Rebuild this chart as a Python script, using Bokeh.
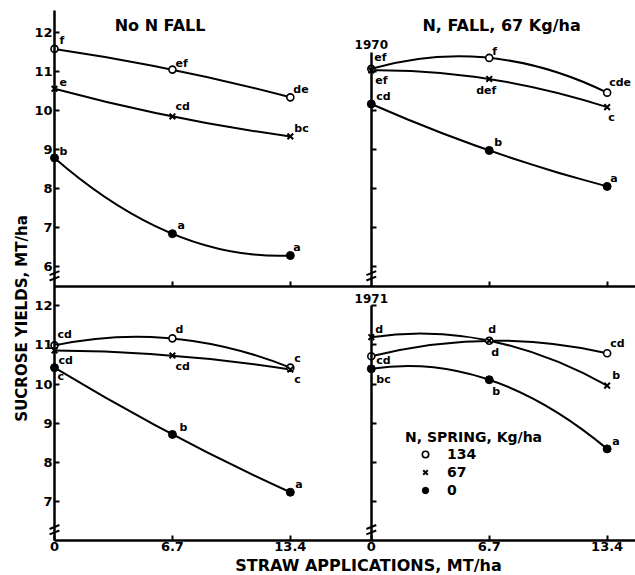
import math
from bokeh.plotting import figure
from bokeh.models import (ColumnDataSource, LinearAxis, FixedTicker, Label,
                          Legend, LegendItem, Range1d)
from bokeh.core.properties import value
from bokeh.embed import file_html
from bokeh.resources import INLINE

# ---------------- data ----------------
straw = [0, 6.7, 13.4]                      # straw applications, MT/ha
straw_tick_labels = ["0", "6.7", "13.4"]
spring_rates = ["134", "67", "0"]           # N, spring, kg/ha
ytick_1970 = [6, 7, 8, 9, 10, 11, 12]
ytick_1971 = [7, 8, 9, 10, 11, 12]

# sucrose yields, MT/ha
y70_nofall_134 = [11.58, 11.05, 10.34]
y70_nofall_67 = [10.56, 9.85, 9.34]
y70_nofall_0 = [8.79, 6.85, 6.29]
y70_fall_134 = [11.07, 11.35, 10.46]
y70_fall_67 = [11.03, 10.81, 10.09]
y70_fall_0 = [10.17, 8.98, 8.06]
y71_nofall_134 = [10.99, 11.17, 10.42]
y71_nofall_67 = [10.86, 10.73, 10.37]
y71_nofall_0 = [10.42, 8.71, 7.23]
y71_fall_134 = [10.71, 11.11, 10.79]
y71_fall_67 = [11.20, 11.11, 9.96]
y71_fall_0 = [10.39, 10.11, 8.34]

# significance letters
l70_nofall_134 = ["f", "ef", "de"]
l70_nofall_67 = ["e", "cd", "bc"]
l70_nofall_0 = ["b", "a", "a"]
l70_fall_134 = ["ef", "f", "cde"]
l70_fall_67 = ["ef", "def", "c"]
l70_fall_0 = ["cd", "b", "a"]
l71_nofall_134 = ["cd", "d", "c"]
l71_nofall_67 = ["cd", "cd", "c"]
l71_nofall_0 = ["c", "b", "a"]
l71_fall_134 = ["cd", "d", "cd"]
l71_fall_67 = ["d", "d", "b"]
l71_fall_0 = ["bc", "b", "a"]

# ---------------- layout / style ----------------
FONT = "DejaVu Sans"
PX_X = 17.6          # pixels per MT/ha of straw
PX_Y = 39.06         # pixels per MT/ha of sucrose
COL_OFFSET = {"nofall": 0.0, "fall": 18.0}
ROW_OFFSET = {"1970": 7.0, "1971": 0.0}
ROW_FLOOR = {"1970": 5.5, "1971": 6.0}
RIGHT_AXIS_TOP = {"1970": 11.5, "1971": 12.0}
LEFT_AXIS_TOP = 12.56 + ROW_OFFSET["1970"]

series = {
    ("1970", "nofall", "134"): (y70_nofall_134, l70_nofall_134),
    ("1970", "nofall", "67"): (y70_nofall_67, l70_nofall_67),
    ("1970", "nofall", "0"): (y70_nofall_0, l70_nofall_0),
    ("1970", "fall", "134"): (y70_fall_134, l70_fall_134),
    ("1970", "fall", "67"): (y70_fall_67, l70_fall_67),
    ("1970", "fall", "0"): (y70_fall_0, l70_fall_0),
    ("1971", "nofall", "134"): (y71_nofall_134, l71_nofall_134),
    ("1971", "nofall", "67"): (y71_nofall_67, l71_nofall_67),
    ("1971", "nofall", "0"): (y71_nofall_0, l71_nofall_0),
    ("1971", "fall", "134"): (y71_fall_134, l71_fall_134),
    ("1971", "fall", "67"): (y71_fall_67, l71_fall_67),
    ("1971", "fall", "0"): (y71_fall_0, l71_fall_0),
}
# pixel offsets of each letter from its point (left edge, vertical centre)
letter_offsets = {
    ("1970", "nofall", "134"): [(5, -8), (3, -6), (3, -8)],
    ("1970", "nofall", "67"): [(5, -7), (3, -10), (4, -8)],
    ("1970", "nofall", "0"): [(5, -6), (5, -8), (3, -8)],
    ("1970", "fall", "134"): [(3, -11), (3, -6), (2, -10)],
    ("1970", "fall", "67"): [(4, 10), (-13, 12), (1, 10)],
    ("1970", "fall", "0"): [(5, -7), (5, -8), (3, -8)],
    ("1971", "nofall", "134"): [(3, -11), (3, -9), (4, -9)],
    ("1971", "nofall", "67"): [(4, 10), (3, 11), (4, 10)],
    ("1971", "nofall", "0"): [(3, 9), (7, -7), (5, -8)],
    ("1971", "fall", "134"): [(5, 4), (-1, -11), (3, -10)],
    ("1971", "fall", "67"): [(4, -8), (2, 12), (5, -10)],
    ("1971", "fall", "0"): [(5, 11), (3, 12), (5, -7)],
}

W, H = 635, 575
x_start = -54 / PX_X
x_end = x_start + W / PX_X
y_end = 19 + 32 / PX_Y
y_start = y_end - H / PX_Y

p = figure(width=W, height=H, x_range=Range1d(x_start, x_end),
           y_range=Range1d(y_start, y_end), output_backend="svg",
           toolbar_location=None, min_border=0, min_border_left=0,
           min_border_bottom=0, min_border_top=0, min_border_right=0,
           background_fill_color="white")
p.grid.visible = False
p.outline_line_color = None


def style_axis(ax):
    ax.axis_line_width = 2.5
    ax.axis_line_color = "black"
    ax.major_tick_line_width = 2
    ax.major_tick_in = 5
    ax.major_tick_out = 0
    ax.minor_tick_line_color = None
    ax.major_label_text_font = FONT
    ax.major_label_text_font_style = "bold"
    ax.major_label_text_font_size = "13px"
    ax.major_label_text_color = "black"
    ax.major_label_standoff = 2


# main y axis (left, labelled, both years)
left_ticks = [v + ROW_OFFSET["1971"] for v in ytick_1971] + \
             [v + ROW_OFFSET["1970"] for v in ytick_1970]
left_labels = [str(v) for v in ytick_1971] + [str(v) for v in ytick_1970]
yax = p.yaxis[0]
style_axis(yax)
yax.fixed_location = 0
yax.bounds = (ROW_FLOOR["1971"], LEFT_AXIS_TOP)
yax.ticker = FixedTicker(ticks=left_ticks)
yax.major_label_overrides = dict(zip(left_ticks, left_labels))

# right panels' y axes (unlabelled)
for year in ["1970", "1971"]:
    ticks = [v + ROW_OFFSET[year] for v in (ytick_1970 if year == "1970" else ytick_1971)
             if v <= RIGHT_AXIS_TOP[year]]
    ax = LinearAxis(fixed_location=COL_OFFSET["fall"],
                    bounds=(ROW_FLOOR[year] + ROW_OFFSET[year],
                            RIGHT_AXIS_TOP[year] + ROW_OFFSET[year]),
                    ticker=FixedTicker(ticks=ticks),
                    major_label_overrides={t: "" for t in ticks})
    style_axis(ax)
    p.add_layout(ax, "left")

# bottom x axis (labelled)
x_ticks = [v + COL_OFFSET[c] for c in ["nofall", "fall"] for v in straw]
x_labels = straw_tick_labels * 2
xax = p.xaxis[0]
style_axis(xax)
xax.fixed_location = ROW_FLOOR["1971"] + ROW_OFFSET["1971"]
xax.bounds = (0, x_end)
xax.ticker = FixedTicker(ticks=x_ticks)
xax.major_label_overrides = dict(zip(x_ticks, x_labels))

# x axis line of the 1970 row
top_ticks = [t for t in x_ticks if t not in COL_OFFSET.values()]
xax2 = LinearAxis(fixed_location=ROW_FLOOR["1970"] + ROW_OFFSET["1970"],
                  bounds=(0, x_end), ticker=FixedTicker(ticks=top_ticks),
                  major_label_overrides={t: "" for t in top_ticks})
style_axis(xax2)
p.add_layout(xax2, "below")

# axis break marks
bx0, by0, bx1, by1 = [], [], [], []
for year in ["1970", "1971"]:
    for fall in ["nofall", "fall"]:
        xa = COL_OFFSET[fall]
        yb = ROW_FLOOR[year] + ROW_OFFSET[year]
        for k in (0.2, 0.34):
            bx0.append(xa - 0.28); by0.append(yb + k - 0.05)
            bx1.append(xa + 0.28); by1.append(yb + k + 0.05)
p.segment(x0=bx0, y0=by0, x1=bx1, y1=by1, line_color="black", line_width=2)

# curves (quadratic through the three points)
cur = dict(x0=[], y0=[], x1=[], y1=[], cx=[], cy=[])
for (year, fall, rate), (vals, _) in series.items():
    xo, yo = COL_OFFSET[fall], ROW_OFFSET[year]
    cur["x0"].append(straw[0] + xo); cur["y0"].append(vals[0] + yo)
    cur["x1"].append(straw[2] + xo); cur["y1"].append(vals[2] + yo)
    cur["cx"].append(2 * straw[1] - (straw[0] + straw[2]) / 2 + xo)
    cur["cy"].append(2 * vals[1] - (vals[0] + vals[2]) / 2 + yo)
p.quadratic(x0="x0", y0="y0", x1="x1", y1="y1", cx="cx", cy="cy",
            source=ColumnDataSource(cur), line_color="black", line_width=2)

# markers
marker_style = {
    "134": dict(marker="circle", size=7, fill_color="white", line_color="black", line_width=1.6),
    "67": dict(marker="x", size=8, line_color="black", line_width=2),
    "0": dict(marker="circle", size=8, fill_color="black", line_color="black", line_width=1),
}
renderers = {}
for rate in spring_rates:
    xs, ys = [], []
    for (year, fall, r), (vals, _) in series.items():
        if r != rate:
            continue
        xs += [s + COL_OFFSET[fall] for s in straw]
        ys += [v + ROW_OFFSET[year] for v in vals]
    renderers[rate] = p.scatter(x=xs, y=ys, **marker_style[rate])

# letters
lab = dict(x=[], y=[], text=[], dx=[], dy=[])
for key, (vals, letters) in series.items():
    year, fall, _ = key
    for s, v, t, (dx, dy) in zip(straw, vals, letters, letter_offsets[key]):
        lab["x"].append(s + COL_OFFSET[fall]); lab["y"].append(v + ROW_OFFSET[year])
        lab["text"].append(t); lab["dx"].append(dx); lab["dy"].append(dy)
p.text(x="x", y="y", text="text", x_offset="dx", y_offset="dy",
       source=ColumnDataSource(lab), text_font=value(FONT),
       text_font_style="bold", text_font_size="11px", text_color="black",
       text_align="left", text_baseline="middle")

# titles
def add_label(x, y, text, size, angle=0.0, align="center"):
    p.add_layout(Label(x=x, y=y, text=text, angle=angle, text_align=align,
                       text_baseline="middle", text_font=FONT,
                       text_font_style="bold", text_font_size=size,
                       text_color="black"))

add_label(6.0, 19.18, "No N FALL", "16px")
add_label(25.4, 19.18, "N, FALL, 67 Kg/ha", "16px")
add_label(COL_OFFSET["fall"], 18.69, "1970", "12px")
add_label(COL_OFFSET["fall"], 12.19, "1971", "12px")
add_label(-1.82, 11.68, "SUCROSE YIELDS, MT/ha", "15px", angle=math.pi / 2)
add_label(17.84, 5.36, "STRAW APPLICATIONS, MT/ha", "16px")

# legend
legend = Legend(items=[LegendItem(label=r, renderers=[renderers[r]]) for r in spring_rates],
                title="N, SPRING, Kg/ha", location=(405, 77),
                title_text_font=FONT, title_text_font_style="bold",
                title_text_font_size="14px", title_standoff=1,
                title_text_color="black",
                label_text_font=FONT, label_text_font_style="bold",
                label_text_font_size="14px", label_text_color="black",
                glyph_width=40, glyph_height=16,
                label_height=16, label_standoff=2, spacing=2, padding=0,
                margin=0, border_line_color=None, background_fill_alpha=0)
p.add_layout(legend)

open("out.html", "w").write(file_html(p, INLINE))
